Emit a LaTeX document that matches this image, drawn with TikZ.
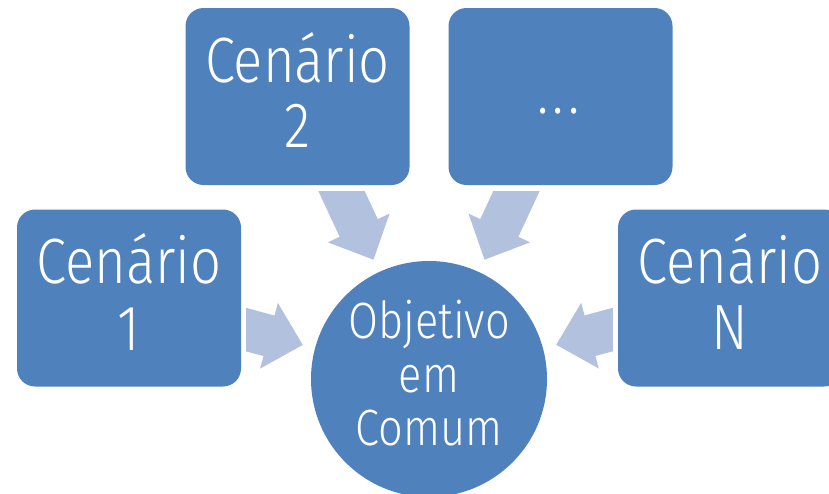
\documentclass[tikz,border=0pt]{standalone}
\usepackage{fontspec}
\setmainfont{Fira Sans Light}[FakeStretch=0.85]
\usetikzlibrary{calc}
\definecolor{boxblue}{HTML}{4F81BD}
\definecolor{arrowblue}{HTML}{B1C1DE}
% block arrow from node #1 towards node #2, clipped by rectangle #3
\newcommand\convarrow[3]{%
  \coordinate (#1-T) at ($(#1)!180pt!(#2)$);
  \coordinate (#1-H) at ($(#1)!145pt!(#2)$);
  \coordinate (#1-B) at ($(#1)!60pt!(#2)$);
  \begin{scope}
    \clip #3;
    \fill[arrowblue] (#1-T)
      -- ($(#1-H)!34pt!90:(#2)$) -- ($(#1-H)!21pt!90:(#2)$)
      -- ($(#1-B)!21pt!90:(#2)$) -- ($(#1-B)!21pt!-90:(#2)$)
      -- ($(#1-H)!21pt!-90:(#2)$) -- ($(#1-H)!34pt!-90:(#2)$) -- cycle;
  \end{scope}}
\begin{document}
\begin{tikzpicture}[x=1pt,y=1pt,
  boxstyle/.style={fill=boxblue, rounded corners=18pt, minimum width=224pt,
    minimum height=177pt, inner sep=0pt, draw=none},
  circstyle/.style={circle, fill=boxblue, minimum size=236pt, inner sep=0pt, draw=none},
  lbl/.style={text=white, inner sep=0pt, anchor=base, font=\fontsize{64}{64}\selectfont},
  clbl/.style={text=white, inner sep=0pt, anchor=base, font=\fontsize{51}{51}\selectfont}]
\useasboundingbox (0,0) rectangle (829,-493);
% shapes
\node[boxstyle] (c1) at (129,-298) {};
\node[boxstyle] (c2) at (297.5,-96.5) {};
\node[boxstyle] (cd) at (560.5,-96.5) {};
\node[boxstyle] (cn) at (730,-298) {};
\node[circstyle] (obj) at (429,-379) {};
% arrows
\convarrow{c1}{obj}{($(c1.east)+(5,-150)$) rectangle ($(c1.east)+(200,150)$)}
\convarrow{c2}{obj}{($(c2.south)+(-200,-6)$) rectangle ($(c2.south)+(300,-300)$)}
\convarrow{cd}{obj}{($(cd.south)+(-300,-6)$) rectangle ($(cd.south)+(200,-300)$)}
\convarrow{cn}{obj}{($(cn.west)+(-5,-150)$) rectangle ($(cn.west)+(-200,150)$)}
% labels
\node[lbl] (c1a) at ($(c1)+(0,15)$) {Cenário};
\node[lbl] (c1b) at ($(c1)+(0,-52)$) {1};
\node[lbl] (c2a) at ($(c2)+(0,14.5)$) {Cenário};
\node[lbl] (c2b) at ($(c2)+(0,-51)$) {2};
\node[lbl] (cda) at ($(cd)+(-2,-16.5)$) {.\kern4pt.\kern4pt.};
\node[lbl] (cna) at ($(cn)+(0,15)$) {Cenário};
\node[lbl] (cnb) at ($(cn)+(0,-51)$) {N};
\node[clbl] (oa) at ($(obj)+(0,41)$) {Objetivo};
\node[clbl] (ob) at ($(obj)+(0,-13)$) {em};
\node[clbl] (oc) at ($(obj)+(0,-66)$) {Comum};
\end{tikzpicture}
\end{document}
